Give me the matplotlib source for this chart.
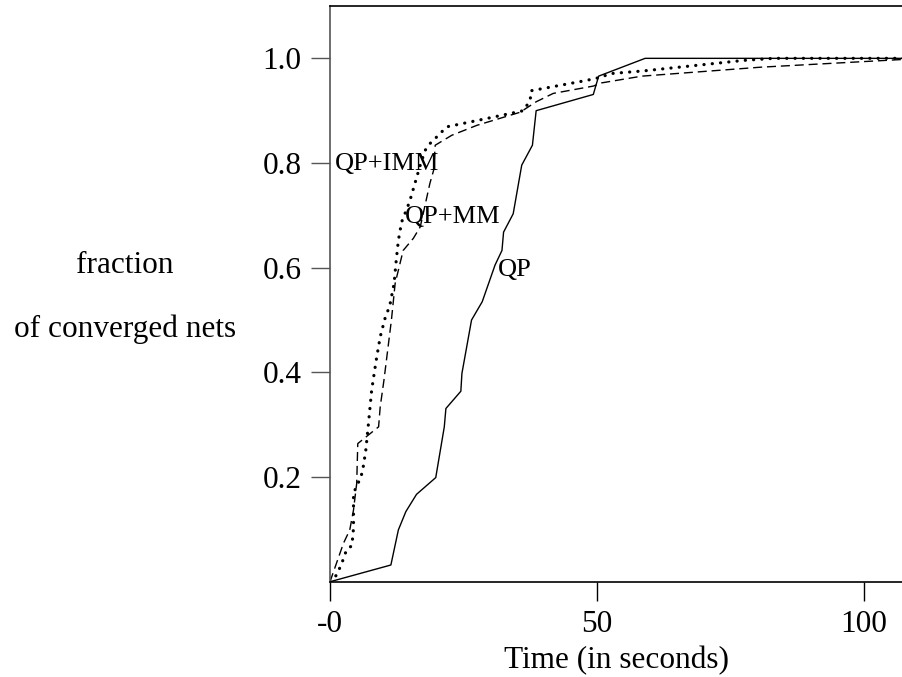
import matplotlib
matplotlib.use("Agg")
from matplotlib import pyplot as plt

plt.rcParams['font.family'] = ['Liberation Serif', 'DejaVu Serif']

# time (s) / fraction of converged nets
qpTime = [0, 11.4, 12.8, 14.2, 16.2, 19.8, 21.4, 21.7, 24.5, 24.7, 26.5, 28.5,
          30.9, 32.2, 32.5, 34.3, 35.9, 37.9, 38.6, 49.3, 50.3, 59.0, 107.5]
qpFrac = [0, 0.032, 0.099, 0.134, 0.167, 0.199, 0.296, 0.331, 0.364, 0.398, 0.50, 0.535,
          0.605, 0.633, 0.668, 0.703, 0.796, 0.834, 0.90, 0.931, 0.966, 1.0, 1.0]

mmTime = [0, 2.5, 3.7, 4.4, 5.0, 5.2, 9.1, 9.4, 10.1, 11.5, 12.2, 13.7, 15.6, 16.9,
          18.7, 19.4, 19.7, 22.8, 27.5, 35.6, 38.6, 41.8, 49.3, 50.8, 58.4, 80.5, 107.5]
mmFrac = [0, 0.073, 0.099, 0.137, 0.188, 0.264, 0.296, 0.334, 0.385, 0.50, 0.57, 0.633,
          0.656, 0.678, 0.761, 0.786, 0.834, 0.853, 0.872, 0.897, 0.917, 0.933, 0.947,
          0.953, 0.966, 0.983, 0.998]

immTime = [0, 1.25, 2.2, 3.1, 4.1, 4.4, 4.4, 4.4, 5.1, 5.8, 6.2, 6.7, 7.2, 7.5, 7.8,
           8.6, 9.4, 10.3, 11.2, 12.0, 12.4, 12.8, 13.4, 14.9, 15.9, 16.9, 17.8, 18.7,
           20.6, 21.8, 29.3, 36.2, 37.5, 37.6, 48.1, 50.3, 52.7, 58.7, 77.4, 83.1, 107.5]
immFrac = [0, 0.013, 0.035, 0.061, 0.069, 0.102, 0.134, 0.169, 0.185, 0.20, 0.218, 0.251,
           0.302, 0.334, 0.366, 0.42, 0.468, 0.503, 0.528, 0.57, 0.614, 0.652, 0.687,
           0.726, 0.761, 0.796, 0.824, 0.837, 0.856, 0.869, 0.885, 0.90, 0.92, 0.938,
           0.958, 0.963, 0.971, 0.976, 0.996, 1.0, 1.0]

xTicks = [0, 50, 100]
xTickLabels = ['-0', '50', '100']
yTicks = [0.2, 0.4, 0.6, 0.8, 1.0]
yTickLabels = ['0.2', '0.4', '0.6', '0.8', '1.0']

fig = plt.figure(figsize=(9.02, 6.77), dpi=100)
ax = fig.add_axes([330 / 902, 95.25 / 677, 1 - 330 / 902, 575.75 / 677])

ax.plot(qpTime, qpFrac, color='black', linewidth=1.0, linestyle='-')
ax.plot(mmTime, mmFrac, color='black', linewidth=1.0, linestyle=(0, (6.5, 3.5)))
ax.plot(immTime, immFrac, color='black', linewidth=2.3, linestyle=(0, (0.05, 2.55)),
        dash_capstyle='round')

# curve names, baseline-anchored
ax.text(0.9, 0.786, 'QP+IMM', fontsize=19, ha='left', va='baseline')
ax.text(14.0, 0.686, 'QP+MM', fontsize=19, ha='left', va='baseline')
ax.text(31.5, 0.585, 'QP', fontsize=19, ha='left', va='baseline')

ax.set_xlim(0, 107.1)
ax.set_ylim(0, 1.1)
ax.set_xticks(xTicks)
ax.set_xticklabels(xTickLabels)
ax.set_yticks(yTicks)
ax.set_yticklabels(yTickLabels)
ax.tick_params(direction='out', length=14, width=1, labelsize=22.5, pad=6.5)
ax.tick_params(axis='y', color='#555555')

ax.spines['right'].set_visible(False)
ax.spines['left'].set_color('#555555')
for side in ['top', 'bottom', 'left']:
    ax.spines[side].set_linewidth(1.2)

fig.text(125 / 902, 1 - 273 / 677, 'fraction', fontsize=22.5, ha='center', va='baseline')
fig.text(125 / 902, 1 - 337 / 677, 'of converged nets', fontsize=22.5, ha='center', va='baseline')
fig.text(616 / 902, 1 - 668 / 677, 'Time (in seconds)', fontsize=22.5, ha='center', va='baseline')

fig.savefig('out.png', dpi=100)
